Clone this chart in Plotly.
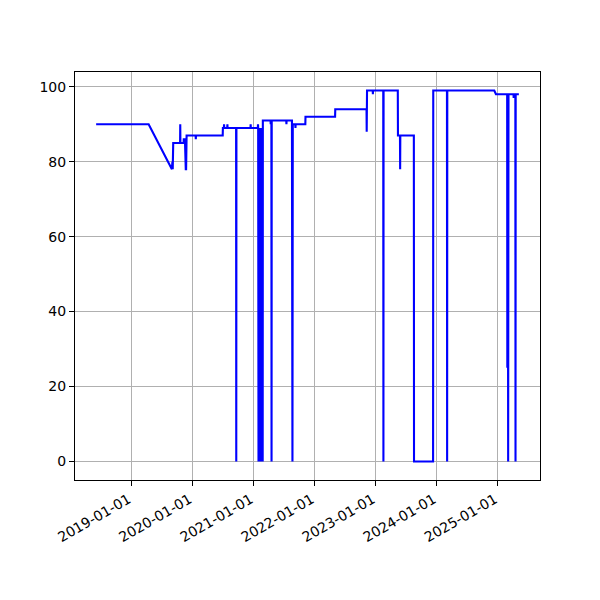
import plotly.graph_objects as go
import pandas as pd

# Observations (date, value)
dates = [
    "2018-06-04", "2019-04-14", "2019-08-31", "2019-09-03", "2019-09-05", "2019-09-08",
    "2019-10-19", "2019-10-20", "2019-10-21", "2019-11-09", "2019-11-10", "2019-11-17",
    "2019-11-18", "2019-11-20", "2019-11-22", "2019-11-24", "2019-11-27", "2020-01-20",
    "2020-01-21", "2020-01-22", "2020-06-30", "2020-07-01", "2020-07-07", "2020-07-08",
    "2020-07-09", "2020-07-27", "2020-07-28", "2020-07-29", "2020-09-18", "2020-09-19",
    "2020-09-20", "2020-12-13", "2020-12-14", "2020-12-15", "2021-01-26", "2021-01-27",
    "2021-01-28", "2021-01-30", "2021-02-01", "2021-02-02", "2021-02-04", "2021-02-05",
    "2021-02-07", "2021-02-08", "2021-02-10", "2021-02-11", "2021-02-13", "2021-02-14",
    "2021-02-16", "2021-02-17", "2021-02-19", "2021-02-20", "2021-02-22", "2021-02-24",
    "2021-02-25",
    "2021-04-12", "2021-04-13", "2021-04-14", "2021-04-17", "2021-04-18", "2021-04-19",
    "2021-07-15", "2021-07-16", "2021-07-17", "2021-08-18", "2021-08-19", "2021-08-21",
    "2021-08-23", "2021-09-07", "2021-09-08", "2021-09-09", "2021-11-06", "2021-11-07",
    "2022-05-03", "2022-05-04", "2022-11-07", "2022-11-08", "2022-11-10", "2022-12-14",
    "2022-12-15", "2022-12-16", "2023-02-15", "2023-02-16", "2023-02-17", "2023-05-13",
    "2023-05-14", "2023-05-26", "2023-05-27", "2023-05-28", "2023-08-17", "2023-08-18",
    "2023-12-10", "2023-12-11", "2024-03-02", "2024-03-03", "2024-03-04", "2024-12-10",
    "2024-12-20", "2025-02-25", "2025-02-26", "2025-03-01", "2025-03-03", "2025-03-05",
    "2025-04-04", "2025-04-05", "2025-04-06", "2025-04-15", "2025-04-16", "2025-04-17",
    "2025-05-06",
]
values = [
    90, 90, 78, 80, 78, 85,
    85, 90, 85, 85, 86, 86,
    78, 86, 78, 78, 87, 87,
    86, 87, 87, 89, 89, 90,
    89, 89, 90, 89, 89, 0,
    89, 89, 90, 89, 89, 90,
    89, 0, 89, 0, 89, 0,
    89, 0, 89, 0, 89, 0,
    89, 0, 89, 0, 89, 0,
    91,
    91, 90, 91, 91, 0, 91,
    91, 90, 91, 91, 0, 0,
    90, 90, 89, 90, 90, 92,
    92, 94, 94, 88, 99, 99,
    98, 99, 99, 0, 99, 99,
    87, 87, 78, 87, 87, 0,
    0, 99, 99, 0, 99, 99,
    98, 98, 25, 98, 0, 98,
    98, 97, 98, 98, 0, 98,
    98,
]

x_ticks = ["2019-01-01", "2020-01-01", "2021-01-01", "2022-01-01",
           "2023-01-01", "2024-01-01", "2025-01-01"]
y_ticks = [0, 20, 40, 60, 80, 100]

dx = pd.to_datetime(dates)
span = dx.max() - dx.min()
x_range = [dx.min() - span * 0.05, dx.max() + span * 0.05]
vmin, vmax = min(values), max(values)
vspan = vmax - vmin
y_range = [vmin - vspan * 0.05, vmax + vspan * 0.05]

fig = go.Figure()
fig.add_trace(go.Scatter(x=dx, y=values, mode="lines",
                         line=dict(color="#0000ff", width=2.1)))

axis_common = dict(
    showline=True, linecolor="black", linewidth=1, mirror=True,
    showgrid=True, gridcolor="#b0b0b0", gridwidth=1,
    ticks="outside", ticklen=5, tickcolor="black", tickwidth=1,
    zeroline=False,
    tickfont=dict(family="DejaVu Sans", size=14, color="black"),
)

fig.update_layout(
    width=600, height=600,
    margin=dict(l=67, r=68, t=64, b=128),
    paper_bgcolor="white", plot_bgcolor="white",
    showlegend=False,
    xaxis=dict(range=x_range, tickvals=x_ticks, ticktext=x_ticks,
               tickangle=-30, ticklabelshift=-3, **axis_common),
    yaxis=dict(range=y_range, tickvals=y_ticks, **axis_common),
)

fig.write_html("out.html")
